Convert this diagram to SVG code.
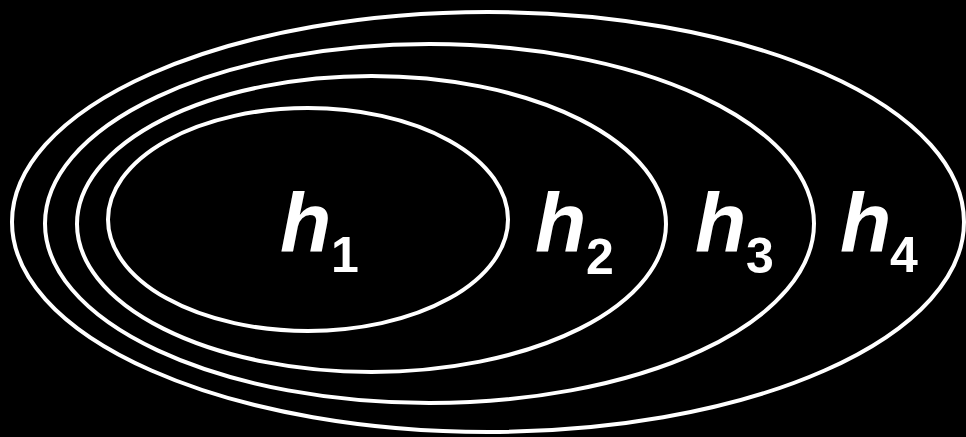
<svg xmlns="http://www.w3.org/2000/svg" width="966" height="437" viewBox="0 0 966 437">
<style>
.ring{fill:none;stroke:#fff;stroke-width:4}
.v{font-family:"Liberation Sans",Arial,sans-serif;font-weight:bold;font-style:italic;font-size:84px;fill:#fff}
.s{font-family:"Liberation Sans",Arial,sans-serif;font-weight:bold;font-size:50px;fill:#fff}
</style>
<rect width="966" height="437" fill="#000"/>
<g id="h4">
<ellipse class="ring" cx="488" cy="222" rx="476" ry="210"/>
<text class="v" x="840" y="252">h</text><text class="s" x="890" y="272">4</text>
</g>
<g id="h3">
<ellipse class="ring" cx="429.5" cy="223.5" rx="384.5" ry="179.5"/>
<text class="v" x="695" y="252">h</text><text class="s" x="746" y="273">3</text>
</g>
<g id="h2">
<ellipse class="ring" cx="371.5" cy="224" rx="294.5" ry="148"/>
<text class="v" x="535" y="252">h</text><text class="s" x="586" y="274">2</text>
</g>
<g id="h1">
<ellipse class="ring" cx="308" cy="219.5" rx="200" ry="111.5"/>
<text class="v" x="280" y="252">h</text><text class="s" x="331" y="272">1</text>
</g>
<g id="connectors"/>
</svg>
